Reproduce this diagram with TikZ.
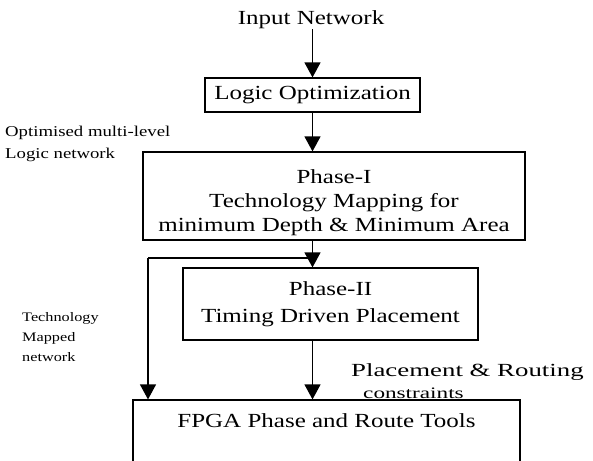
\documentclass[tikz,border=0pt]{standalone}
\usepackage{fontspec}
\setmainfont{Liberation Serif}[FakeStretch=1.25]
\newfontfamily\widefont{Liberation Serif}[FakeStretch=1.45]
\usetikzlibrary{arrows.meta}
\begin{document}
\begin{tikzpicture}[x=1pt,y=-1pt,
  box/.style={draw,line width=1.2pt,inner sep=0pt,align=center,font=\fontsize{20}{24}\selectfont},
  lbl/.style={inner sep=0pt,anchor=west,font=\fontsize{15}{18}\selectfont},
  arr/.style={line width=1.2pt,-{Triangle[width=16pt,length=15pt]}},
  ln/.style={line width=1.2pt}]
\useasboundingbox (0,0) rectangle (593,460);
\node[inner sep=0pt,font=\fontsize{20}{24}\selectfont] (in) at (311,20) {Input Network};
\node[box,minimum width=215pt,minimum height=34pt] (lo) at (312.5,95) {Logic Optimization};
\node[box,minimum width=382pt,minimum height=88pt] (p1) at (334,196) {\rule{0pt}{28pt}Phase-I\\Technology Mapping for\\minimum Depth \& Minimum Area};
\node[box,minimum width=295pt,minimum height=72pt] (p2) at (330.5,304) {Phase-II\\[3pt]Timing Driven Placement};
\node[box,minimum width=387pt,minimum height=64pt] (fp) at (326.5,432) {\rule[-22pt]{0pt}{0pt}FPGA Phase and Route Tools};
\coordinate (j) at (313,258);
\coordinate (lc) at (148,258);
\draw[arr] (in.south -| lo.south) -- (lo.north);
\draw[arr] (lo.south) -- (lo.south |- p1.north);
\draw[arr] (lo.south |- p1.south) -- (lo.south |- p2.north);
\draw[ln] (j) -- (lc);
\draw[arr] (lc) -- (lc |- fp.north);
\draw[arr] (lo.south |- p2.south) -- (lo.south |- fp.north);
\node[lbl] (l1) at (5,133) {Optimised multi-level};
\node[lbl] (l2) at (5,155) {Logic network};
\node[lbl,font=\fontsize{13}{16}\selectfont] (l3) at (22,318) {Technology};
\node[lbl,font=\fontsize{13}{16}\selectfont] (l4) at (22,338) {Mapped};
\node[lbl,font=\fontsize{13}{16}\selectfont] (l5) at (22,357) {network};
\node[lbl,font=\widefont\fontsize{18.5}{22}\selectfont] (l6) at (351,372) {Placement \& Routing};
\node[lbl,font=\widefont\fontsize{16}{20}\selectfont] (l7) at (363,393) {constraints};
\end{tikzpicture}
\end{document}
